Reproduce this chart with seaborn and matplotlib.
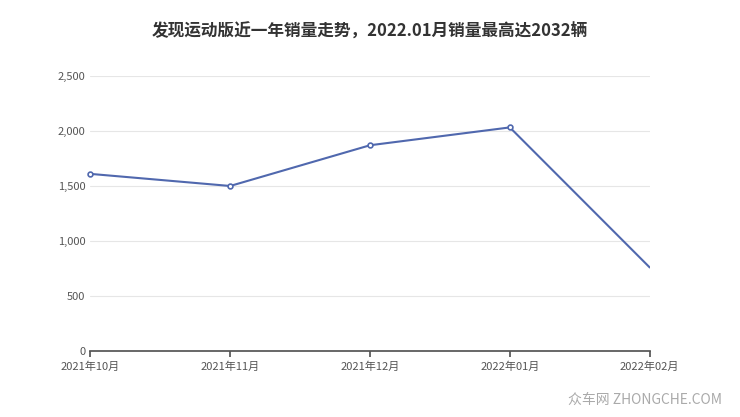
import matplotlib
matplotlib.use("Agg")
import matplotlib.pyplot as plt
import seaborn as sns
import pandas as pd

months = ["2021年10月", "2021年11月", "2021年12月", "2022年01月", "2022年02月"]
sales = [1610, 1500, 1870, 2032, 760]
yticks = [0, 500, 1000, 1500, 2000, 2500]

sns.set_theme(style="white")
plt.rcParams['font.family'] = ['Noto Sans CJK SC', 'DejaVu Sans']

fig = plt.figure(figsize=(7.4, 4.17), dpi=100)
ax = fig.add_axes([0.122, 0.158, 0.756, 0.66])
df = pd.DataFrame({"x": range(len(months)), "y": sales})
sns.lineplot(data=df, x="x", y="y", ax=ax, color="#5068ae", linewidth=1.5)
ax.scatter(df["x"][:-1], df["y"][:-1], s=12, facecolor="white", edgecolor="#5068ae",
           linewidth=1.2, zorder=3, clip_on=False)
ax.set_xlim(0, len(months) - 1)
ax.set_ylim(0, 2500)
ax.set_xticks(range(len(months)))
ax.set_xticklabels(months, fontsize=8, color="#555555")
ax.set_yticks(yticks)
ax.set_yticklabels([f"{v:,}" for v in yticks], fontsize=8, color="#555555")
ax.grid(axis="y", color="#e6e6e6", linewidth=0.8)
for s in ["top", "right", "left"]:
    ax.spines[s].set_visible(False)
ax.spines["bottom"].set_color("#555555")
ax.tick_params(axis="x", length=4, color="#555555", bottom=True)
ax.tick_params(axis="y", length=0)
ax.set_xlabel("")
ax.set_ylabel("")
fig.text(0.5, 0.925, "发现运动版近一年销量走势，2022.01月销量最高达2032辆", ha="center", va="center",
         fontsize=12, fontweight="bold", color="#333333")
fig.text(0.975, 0.04, "众车网 ZHONGCHE.COM", ha="right", va="center", fontsize=10, color="#aaaaaa")
fig.savefig("out.png", dpi=100)
